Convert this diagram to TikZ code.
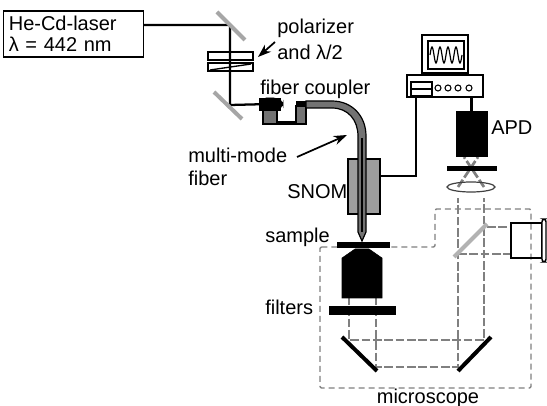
\documentclass[tikz,border=0pt]{standalone}
\usepackage{fontspec}
\setmainfont{Liberation Sans}
\usetikzlibrary{arrows.meta}
\tikzset{
  label/.style={inner sep=0pt,anchor=west,font=\fontsize{15}{18}\selectfont},
  beam/.style={black,line width=1.7pt},
  light/.style={black!50,line width=2pt,dash pattern=on 6.5pt off 2pt},
  frame/.style={black!50,line width=1pt,dash pattern=on 4.5pt off 3pt},
  mirror/.style={line width=3pt},
  pointer/.style={line width=1.3pt,-{Stealth[length=10pt,width=7pt]}},
  unit/.style={draw,line width=1.1pt,fill=white,inner sep=0pt},
  solid box/.style={fill=black,draw=black,inner sep=0pt}
}
\begin{document}
\begin{tikzpicture}[x=0.75pt,y=-0.75pt]
\useasboundingbox (0,0) rectangle (547,406);
% frame of the microscope
\draw[frame,rounded corners=1pt] (320,247)--(435,247)--(435,209)--(531,209)--(531,388)--(320,388)--cycle;
\node[label,anchor=center] (microscope) at (428,398) {microscope};
% laser and excitation path
\node[unit,text width=97pt,minimum height=34.5pt,inner xsep=4pt,align=left,font=\fontsize{15}{15.8}\selectfont] (laser) at (73.5,34) {He-Cd-laser\\λ = 442 nm};
\coordinate (upper) at (230,25);
\coordinate (lower) at (230,105);
\node[solid box,minimum width=16pt,minimum height=9pt] (launch) at (270,104) {};
\draw[beam] (laser.east|-upper)--(upper)--(lower)--(launch);
\draw[black!35,mirror] (217,12)--(245,40);
\draw[black!35,mirror] (214,92)--(242,119);
\node[unit,fill=none,minimum width=33.5pt,minimum height=6pt] (polarizer) at (230.5,56) {};
\node[unit,fill=none,minimum width=33.5pt,minimum height=6pt] (waveplate) at (230.5,67) {};
\draw[line width=1pt] (210,70)--(251,64);
\node[label] (poltext) at (277,28) {polarizer};
\node[label] (haltext) at (277,52) {and λ/2};
\draw[pointer] (275,42)--(258,57);
% fiber coupler
\node[label] (coupler text) at (260,89) {fiber coupler};
\draw[line width=1.1pt,fill=black!55] (263,110)--(277,110)--(277,122)--(296,122)--(296,106)--(306,106)--(306,124)--(263,124)--cycle;
\draw[solid box,rounded corners=3pt] (262,98)--(278,98)--(283,102)--(283,106)--(278,110)--(262,110)--cycle;
\fill (296,101) rectangle (306,107);
% fiber and SNOM head
\node[draw,line width=0.9pt,fill=black!38,minimum width=24pt,minimum height=41.25pt,inner sep=0pt] (snom) at (364,186.5) {};
\draw[line width=0.9pt,fill=black!55] (306,101)--(332,101) .. controls (352,101) and (366,116) .. (366,136)--(366,232)--(362,241)--(358,232)--(358,136) .. controls (358,120) and (348,108) .. (332,108)--(306,108)--cycle;
\draw[line width=0.9pt] (362,138)--(362,232);
\node[label] (snom text) at (287,192) {SNOM};
\node[label] (fiber one) at (188,155) {multi-mode};
\node[label] (fiber two) at (188,178) {fiber};
\draw[pointer] (297,157)--(347,135);
% sample, objective and filters
\node[solid box,minimum width=39pt,minimum height=3.75pt] (sample) at (363,244.5) {};
\node[label] (sample text) at (265,237) {sample};
\draw[light] (349,296)--(349,340)--(484,340)--(484,198);
\draw[light] (376,296)--(376,367)--(458,367)--(458,198);
\draw[solid box] (355,249)--(369,249)--(382,258)--(382,298)--(342,298)--(342,258)--cycle;
\node[solid box,minimum width=49.5pt,minimum height=6pt] (filters) at (362,310) {};
\node[label] (filters text) at (265,307) {filters};
\draw[mirror] (342,337)--(377,371);
\draw[mirror] (458,371)--(491,337);
% detection path
\draw[light] (487,227)--(511,227);
\draw[light] (458,254)--(511,254);
\draw[black!30,mirror] (454,257)--(487,224);
\node[unit,fill=none,minimum width=23.25pt,minimum height=26.25pt] (eyepiece) at (526.5,240.5) {};
\draw[line width=1.1pt,fill=white,rounded corners=2pt] (542,219) rectangle (546,262);
\draw[light] (484,187)--(464,157);
\draw[light] (458,187)--(478,157);
\draw[line width=0.9pt,black!75] (471,187) ellipse (24 and 5);
\node[solid box,minimum width=36.75pt,minimum height=3pt] (pinhole) at (471.5,168) {};
\node[solid box,minimum width=23.25pt,minimum height=33.75pt] (apd) at (471.5,133.5) {};
\node[label] (apd text) at (491,128) {APD};
% electronics and monitor
\node[unit,line width=0.9pt,minimum width=57pt,minimum height=16.5pt] (electronics) at (445,86) {};
\node[unit,line width=0.9pt,minimum width=34.5pt,minimum height=28.5pt] (monitor) at (445,54) {};
\draw[line width=0.9pt] (428,41) rectangle (464,69);
\draw[line width=0.9pt] plot[smooth,domain=0:32,samples=65] ({430+\x},{55-8*sin(\x*45)});
\draw[line width=0.9pt] (411,82) rectangle (432,96);
\draw[line width=0.9pt] (411,89)--(432,89);
\foreach \i in {438,448,458,469} {
  \draw[line width=0.8pt] (\i,88) circle (3);
}
\draw[beam] (snom.east|-416,176)--(416,176)--(416,97);
\draw[beam] (apd.north)--(apd.north|-electronics.south);
\end{tikzpicture}
\end{document}
